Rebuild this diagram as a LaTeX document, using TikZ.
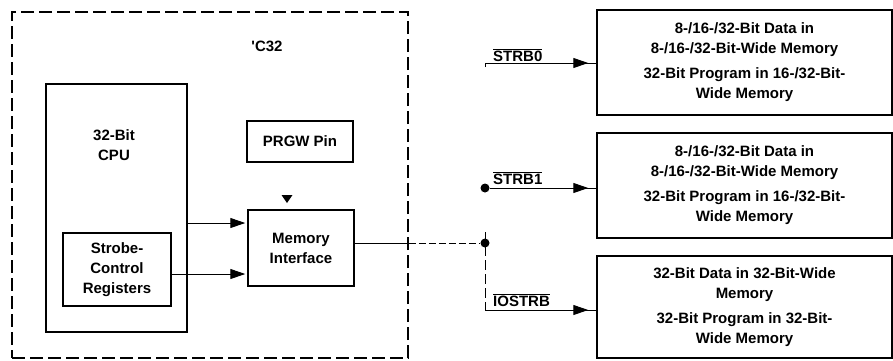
\documentclass[tikz,border=0pt]{standalone}
\usepackage{fontspec}
\setmainfont{Liberation Sans}
\newfontfamily\plainq{Liberation Sans}[Ligatures=TeXOff]
\usetikzlibrary{arrows.meta,decorations.markings}
\newcommand\diagtxt{\fontsize{15}{20}\selectfont\bfseries}
\tikzset{
  box/.style={draw, line width=1.5pt, inner sep=0pt, align=center, font=\diagtxt},
  chipbox/.style={draw, line width=1.5pt, dash pattern=on 13pt off 5pt, inner sep=0pt,
    minimum width=396pt, minimum height=346pt},
  lbl/.style={inner sep=0pt, align=center, font=\diagtxt},
  conn/.style={line width=1pt},
  tip/.style={-{Triangle[length=15pt,width=10pt]}, shorten >=2pt},
  midarr/.style={postaction={decorate}, decoration={markings,
    mark=at position -8pt with {\arrow{Triangle[length=15pt,width=10pt]}}}},
  busdot/.style={circle, fill, inner sep=0pt, minimum size=9pt},
}
\begin{document}
\begin{tikzpicture}[x=1pt,y=-1pt]
\fill[white] (0,0) rectangle (893,360);
\useasboundingbox (0,0) rectangle (893,360);
% chip outline
\node[chipbox] (chip) at (210,185) {};
\node[lbl] (c32) at (267,46) {{\plainq\bfseries '}C32};
% CPU
\node[box, minimum width=141pt, minimum height=248pt] (cpu) at (116.5,208) {};
\node[lbl] (cput) at (114,145) {32-Bit\\CPU};
\node[box, minimum width=108pt, minimum height=73pt] (scr) at (117,269.5) {Strobe-\\Control\\Registers};
\node[box, minimum width=106pt, minimum height=41pt] (prgw) at (300,141.5) {PRGW Pin};
\node[box, minimum width=106pt, minimum height=76pt] (mi) at (301,248) {Memory\\Interface};
% memory boxes
\node[box, minimum width=295pt, minimum height=105pt] (b1) at (744.5,62.5)
  {8-/16-/32-Bit Data in\\8-/16-/32-Bit-Wide Memory\\[5pt]32-Bit Program in 16-/32-Bit-\\Wide Memory};
\node[box, minimum width=295pt, minimum height=105pt] (b2) at (744.5,185.5)
  {8-/16-/32-Bit Data in\\8-/16-/32-Bit-Wide Memory\\[5pt]32-Bit Program in 16-/32-Bit-\\Wide Memory};
\node[box, minimum width=295pt, minimum height=102pt] (b3) at (744.5,307)
  {32-Bit Data in 32-Bit-Wide\\Memory\\[5pt]32-Bit Program in 32-Bit-\\Wide Memory};
% coordinates
\coordinate (ya) at (0,223);
\coordinate (yb) at (0,274);
\node[busdot] (d1) at (485,188) {};
\node[busdot] (bus) at (485,243) {};
\coordinate (s0) at (485,67);
\coordinate (s0c) at (485,63);
\coordinate (vtop) at (485,232);
\coordinate (corner) at (485,310);
% connectors
\draw[conn, tip] (cpu.east |- ya) -- (mi.west |- ya);
\draw[conn, tip] (scr.east |- yb) -- (mi.west |- yb);
\fill (281.5,195) -- (292.5,195) -- (287,203) -- cycle;
\draw[conn] (mi.east |- bus) -- (chip.east |- bus);
\draw[conn, dash pattern=on 7pt off 3pt] (chip.east |- bus) -- (bus);
\draw[conn, dash pattern=on 10pt off 4pt] (vtop) -- (corner);
\draw[conn, midarr] (corner) -- (b3.west |- corner);
\draw[conn, midarr] (d1) -- (b2.west |- d1);
\draw[conn, midarr] (s0) -- (s0c) -- (b1.west |- s0c);
% labels
\node[lbl, anchor=west] (l0) at (493,55) {$\overline{\mbox{STRB0}}$};
\node[lbl, anchor=west] (l1) at (493,178) {$\overline{\mbox{STRB1}}$};
\node[lbl, anchor=west] (l2) at (493,300) {$\overline{\mbox{IOSTRB}}$};
\end{tikzpicture}
\end{document}
